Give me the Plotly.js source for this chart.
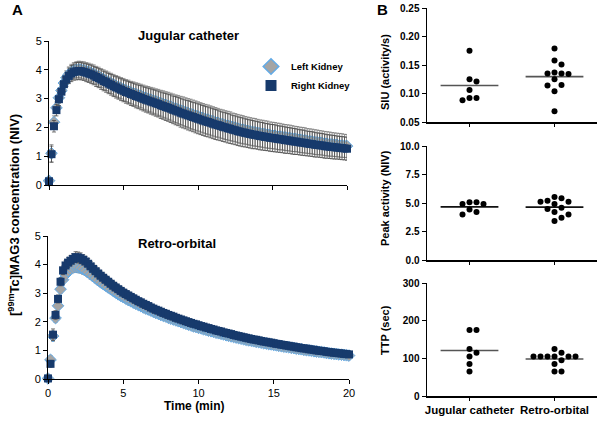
<!DOCTYPE html>
<html>
<head>
<meta charset="utf-8">
<script src="https://cdn.plot.ly/plotly-3.0.1.min.js"></script>
<style>html,body{margin:0;padding:0;background:#fff;}#chart{width:600px;height:422px;}</style>
</head>
<body>
<div id="chart"></div>
<script>
// ---------- DATA ----------
// frame times (seconds)
const frameSeconds = [0,10,20,30,40,50,60,70,80,90,100,110,120,130,140,150,160,170,180,190,200,210,220,230,240,250,260,270,280,290,300,310,320,330,340,350,360,370,380,390,400,410,420,430,440,450,460,470,480,490,500,510,520,530,540,550,560,570,580,590,600,610,620,630,640,650,660,670,680,690,700,710,720,730,740,750,760,770,780,790,800,810,820,830,840,850,860,870,880,890,900,910,920,930,940,950,960,970,980,990,1000,1010,1020,1030,1040,1050,1060,1070,1080,1090,1100,1110,1120,1130,1140,1150,1160,1170,1180,1190,1200];

// Jugular catheter
const jugularRight = [0.13,1.07,2.04,2.60,2.98,3.24,3.50,3.67,3.79,3.87,3.92,3.95,3.96,3.95,3.93,3.90,3.87,3.84,
3.80,3.75,3.71,3.66,3.61,3.57, 3.52,3.48,3.43,3.39,3.35,3.31, 3.27,3.23,3.20,3.16,3.13,3.09,
3.06,3.03,2.99,2.96,2.93,2.90, 2.87,2.84,2.81,2.77,2.74,2.71, 2.68,2.65,2.61,2.58,2.55,2.51,
2.48,2.45,2.42,2.39,2.36,2.33, 2.30,2.27,2.24,2.21,2.19,2.16, 2.13,2.10,2.08,2.05,2.02,2.00,
1.97,1.95,1.92,1.90,1.87,1.85, 1.83,1.81,1.79,1.77,1.75,1.74, 1.72,1.70,1.69,1.67,1.66,1.64,
1.63,1.62,1.60,1.59,1.58,1.56, 1.55,1.54,1.52,1.51,1.50,1.48, 1.47,1.46,1.44,1.43,1.42,1.40,
1.39,1.38,1.37,1.35,1.34,1.33, 1.32,1.31,1.30,1.29,1.28,1.27, 1.26];
const jugularLeft = [0.15,1.10,2.18,2.68,3.03,3.28,3.54,3.72,3.84,3.92,3.97,4.00,4.01,4.00,3.98,3.95,3.92,3.89,
3.85,3.80,3.76,3.71,3.66,3.62, 3.57,3.53,3.48,3.44,3.40,3.36, 3.32,3.28,3.25,3.21,3.18,3.15,
3.12,3.09,3.05,3.02,2.99,2.96, 2.93,2.90,2.87,2.84,2.81,2.78, 2.75,2.72,2.68,2.65,2.62,2.59,
2.56,2.53,2.50,2.47,2.44,2.41, 2.38,2.35,2.32,2.29,2.27,2.24, 2.21,2.18,2.16,2.13,2.11,2.08,
2.06,2.04,2.01,1.99,1.96,1.94, 1.92,1.90,1.88,1.86,1.84,1.83, 1.81,1.79,1.78,1.76,1.75,1.73,
1.72,1.71,1.69,1.68,1.67,1.65, 1.64,1.63,1.61,1.60,1.59,1.57, 1.56,1.55,1.53,1.52,1.51,1.49,
1.48,1.47,1.46,1.44,1.43,1.42, 1.41,1.40,1.39,1.38,1.37,1.36, 1.35];
const jugularRightSD = [0.05,0.28,0.20,0.20,0.22,0.22,0.25,0.25,0.27,0.28,0.28,0.30,0.30,0.30,0.30,0.31,0.31,0.32,
0.32,0.33,0.33,0.34,0.34,0.35, 0.35,0.36,0.36,0.37,0.37,0.38, 0.38,0.39,0.39,0.40,0.40,0.41,
0.41,0.42,0.42,0.43,0.43,0.44, 0.44,0.45,0.45,0.46,0.46,0.47, 0.47,0.48,0.48,0.49,0.49,0.50,
0.50,0.50,0.51,0.51,0.51,0.52, 0.52,0.52,0.52,0.52,0.52,0.52, 0.52,0.52,0.52,0.51,0.51,0.51,
0.51,0.51,0.50,0.50,0.50,0.50, 0.50,0.49,0.49,0.49,0.49,0.48, 0.48,0.48,0.48,0.47,0.47,0.47,
0.47,0.47,0.46,0.46,0.46,0.46, 0.45,0.45,0.45,0.45,0.44,0.44, 0.44,0.44,0.43,0.43,0.43,0.43,
0.42,0.42,0.42,0.42,0.41,0.41, 0.41,0.41,0.40,0.40,0.40,0.40, 0.40];
const jugularLeftSD = [0.05,0.30,0.22,0.20,0.20,0.22,0.24,0.25,0.26,0.27,0.28,0.28,0.29,0.29,0.30,0.30,0.31,0.31,
0.32,0.32,0.33,0.33,0.34,0.34, 0.35,0.35,0.36,0.36,0.37,0.37, 0.38,0.38,0.39,0.39,0.40,0.40,
0.41,0.41,0.42,0.42,0.43,0.43, 0.44,0.44,0.45,0.45,0.46,0.46, 0.47,0.47,0.48,0.48,0.49,0.49,
0.50,0.50,0.50,0.51,0.51,0.51, 0.51,0.51,0.51,0.51,0.51,0.51, 0.51,0.51,0.50,0.50,0.50,0.50,
0.50,0.50,0.49,0.49,0.49,0.49, 0.49,0.48,0.48,0.48,0.48,0.48, 0.47,0.47,0.47,0.47,0.47,0.46,
0.46,0.46,0.46,0.46,0.45,0.45, 0.45,0.45,0.45,0.44,0.44,0.44, 0.44,0.44,0.43,0.43,0.43,0.43,
0.43,0.42,0.42,0.42,0.42,0.42, 0.41,0.41,0.41,0.41,0.41,0.40, 0.40];

// Retro-orbital
const retroRight = [0.02,0.53,1.55,2.24,2.80,3.40,3.80,3.97,4.07,4.14,4.20,4.26,4.25,4.22,4.17,4.11,4.03,3.94,
3.85,3.77,3.69,3.61,3.54,3.47, 3.40,3.33,3.26,3.20,3.14,3.08, 3.02,2.97,2.92,2.87,2.82,2.77,
2.72,2.68,2.63,2.59,2.55,2.50, 2.46,2.42,2.39,2.35,2.31,2.28, 2.24,2.21,2.18,2.14,2.11,2.08,
2.05,2.02,1.99,1.96,1.93,1.91, 1.88,1.85,1.83,1.80,1.78,1.75, 1.73,1.70,1.68,1.66,1.63,1.61,
1.59,1.57,1.54,1.52,1.50,1.48, 1.46,1.44,1.42,1.40,1.38,1.37, 1.35,1.33,1.31,1.30,1.28,1.27,
1.25,1.23,1.22,1.20,1.19,1.17, 1.16,1.14,1.13,1.11,1.10,1.08, 1.07,1.06,1.04,1.03,1.02,1.00,
0.99,0.98,0.97,0.95,0.94,0.93, 0.92,0.91,0.90,0.89,0.88,0.87, 0.86];
const retroLeft = [0.02,0.67,1.50,2.13,2.56,3.14,3.47,3.65,3.77,3.85,3.89,3.91,3.90,3.88,3.84,3.79,3.73,3.66,
3.59,3.52,3.45,3.38,3.32,3.26, 3.20,3.14,3.08,3.02,2.96,2.91, 2.86,2.81,2.76,2.72,2.67,2.63,
2.59,2.55,2.50,2.46,2.43,2.39, 2.35,2.31,2.28,2.24,2.21,2.18, 2.14,2.11,2.08,2.05,2.02,1.99,
1.96,1.93,1.90,1.87,1.84,1.82, 1.79,1.77,1.74,1.72,1.69,1.67, 1.65,1.62,1.60,1.58,1.56,1.53,
1.51,1.49,1.47,1.45,1.43,1.41, 1.39,1.37,1.35,1.34,1.32,1.30, 1.29,1.27,1.25,1.24,1.22,1.21,
1.19,1.18,1.16,1.15,1.13,1.12, 1.11,1.09,1.08,1.06,1.05,1.04, 1.02,1.01,1.00,0.99,0.97,0.96,
0.95,0.94,0.93,0.91,0.90,0.89, 0.88,0.87,0.86,0.85,0.84,0.83, 0.82];
const retroRightSD = [0.02,0.12,0.20,0.15,0.14,0.14,0.15,0.16,0.17,0.18,0.18,0.19,0.19,0.19,0.18,0.18,0.18,0.17,
0.17,0.17,0.16,0.16,0.16,0.15, 0.15,0.15,0.15,0.14,0.14,0.14, 0.14,0.14,0.13,0.13,0.13,0.13,
0.13,0.12,0.12,0.12,0.12,0.12, 0.12,0.12,0.11,0.11,0.11,0.11, 0.11,0.11,0.11,0.11,0.10,0.10,
0.10,0.10,0.10,0.10,0.10,0.10, 0.10,0.10,0.10,0.09,0.09,0.09, 0.09,0.09,0.09,0.09,0.09,0.09,
0.09,0.09,0.09,0.09,0.09,0.09, 0.09,0.09,0.08,0.08,0.08,0.08, 0.08,0.08,0.08,0.08,0.08,0.08,
0.08,0.08,0.08,0.08,0.08,0.08, 0.08,0.08,0.08,0.08,0.08,0.08, 0.08,0.08,0.08,0.08,0.08,0.08,
0.08,0.08,0.08,0.08,0.08,0.08, 0.08,0.08,0.08,0.08,0.08,0.08, 0.08];
const retroLeftSD = [0.02,0.15,0.18,0.15,0.14,0.14,0.15,0.16,0.16,0.17,0.17,0.18,0.18,0.18,0.18,0.17,0.17,0.17,
0.16,0.16,0.16,0.15,0.15,0.15, 0.15,0.14,0.14,0.14,0.14,0.13, 0.13,0.13,0.13,0.13,0.12,0.12,
0.12,0.12,0.12,0.12,0.11,0.11, 0.11,0.11,0.11,0.11,0.11,0.10, 0.10,0.10,0.10,0.10,0.10,0.10,
0.10,0.10,0.10,0.10,0.09,0.09, 0.09,0.09,0.09,0.09,0.09,0.09, 0.09,0.09,0.09,0.09,0.09,0.09,
0.09,0.09,0.09,0.08,0.08,0.08, 0.08,0.08,0.08,0.08,0.08,0.08, 0.08,0.08,0.08,0.08,0.08,0.08,
0.08,0.08,0.08,0.08,0.08,0.08, 0.08,0.08,0.08,0.08,0.08,0.08, 0.07,0.07,0.07,0.07,0.07,0.07,
0.07,0.07,0.07,0.07,0.07,0.07, 0.07,0.07,0.07,0.07,0.07,0.07, 0.07];

// Panel B: individual animals
const groups = ["Jugular catheter", "Retro-orbital"];
const siuJugular = [0.175,0.125,0.121,0.106,0.092,0.092,0.088];
const siuRetro = [0.179,0.158,0.151,0.137,0.135,0.135,0.134,0.125,0.115,0.114,0.104,0.069];
const peakJugular = [5.06,5.06,4.91,4.91,4.44,4.21,4.00];
const peakRetro = [5.53,5.41,5.20,5.11,5.11,4.91,4.59,4.47,4.21,4.00,3.71,3.42];
const ttpJugular = [175,175,125,115,105,85,65];
const ttpRetro = [125,115,105,105,105,105,105,105,95,85,65,65];

// ---------- BUILD ----------
const W = 600, H = 422;
const FONT = "Arial, 'Liberation Sans', sans-serif";
const tMin = frameSeconds.map(s => s / 60);
const navy = '#173a6c';
const diamondFill = '#a4a4a4', diamondEdge = '#62aae6';
const dom = (a, b) => [a / W, b / W];
const vdom = (top, bottom) => [1 - bottom / H, 1 - top / H];

const layoutAx = {
  xaxis:  {domain: dom(49, 347), range: [0, 20], anchor: 'y'},
  yaxis:  {domain: vdom(41, 185), range: [0, 5], anchor: 'x'},
  xaxis2: {domain: dom(48, 349), range: [0, 20], anchor: 'y2'},
  yaxis2: {domain: vdom(236, 379), range: [0, 5], anchor: 'x2'},
  xaxis3: {domain: dom(427, 597), range: [-0.5, 1.5], anchor: 'y3'},
  yaxis3: {domain: vdom(8, 122), range: [0.05, 0.25], anchor: 'x3'},
  xaxis4: {domain: dom(427, 597), range: [-0.5, 1.5], anchor: 'y4'},
  yaxis4: {domain: vdom(146, 260), range: [0, 10], anchor: 'x4'},
  xaxis5: {domain: dom(427, 597), range: [-0.5, 1.5], anchor: 'y5'},
  yaxis5: {domain: vdom(283, 396), range: [0, 300], anchor: 'x5'}
};

function pxPer(ax, isY) {
  const d = ax.domain, r = ax.range;
  return (d[1] - d[0]) * (isY ? H : W) / (r[1] - r[0]);
}

// beeswarm x positions computed in pixel space
function swarm(vals, center, xa, ya) {
  const sx = pxPer(xa, false), sy = pxPer(ya, true);
  const step = 7, dmin = 6.8;
  const placed = [], xs = [];
  vals.forEach(v => {
    const y = v * sy;
    for (let k = 0; k < 60; k++) {
      const off = k === 0 ? 0 : (k % 2 ? (k + 1) / 2 : -k / 2);
      const x = off * step;
      if (placed.every(p => Math.hypot(p[0] - x, p[1] - y) >= dmin)) {
        placed.push([x, y]); xs.push(center + x / sx); break;
      }
    }
  });
  return xs;
}
const mean = a => a.reduce((s, v) => s + v, 0) / a.length;

const leftMarker = {symbol: 'diamond', size: 9, color: diamondFill, line: {color: diamondEdge, width: 1}};
const rightMarker = {symbol: 'square', size: 8, color: navy, line: {width: 0}};

const traces = [];
function curve(y, sd, which, xa, ya) {
  const left = which === 'left';
  traces.push({
    type: 'scatter', mode: 'markers', x: tMin, y: y, xaxis: xa, yaxis: ya,
    showlegend: false, cliponaxis: false, hoverinfo: 'skip',
    marker: left ? leftMarker : rightMarker,
    error_y: {type: 'data', array: sd, visible: true, color: left ? '#6e6e6e' : '#3c3c3c', thickness: 0.7, width: 2}
  });
}
curve(jugularLeft, jugularLeftSD, 'left', 'x', 'y');
curve(jugularRight, jugularRightSD, 'right', 'x', 'y');
curve(retroLeft, retroLeftSD, 'left', 'x2', 'y2');
curve(retroRight, retroRightSD, 'right', 'x2', 'y2');

// legend entries (no data of their own)
traces.push({type: 'scatter', mode: 'markers', x: [null], y: [null], xaxis: 'x', yaxis: 'y',
  name: '<b>Left Kidney</b>', showlegend: true,
  marker: Object.assign({}, leftMarker, {size: 12, line: {color: diamondEdge, width: 1.5}})});
traces.push({type: 'scatter', mode: 'markers', x: [null], y: [null], xaxis: 'x', yaxis: 'y',
  name: '<b>Right Kidney</b>', showlegend: true,
  marker: Object.assign({}, rightMarker, {size: 11})});

const dotPanels = [
  [siuJugular, siuRetro, 'x3', 'y3', 'xaxis3', 'yaxis3', '#555'],
  [peakJugular, peakRetro, 'x4', 'y4', 'xaxis4', 'yaxis4', '#111'],
  [ttpJugular, ttpRetro, 'x5', 'y5', 'xaxis5', 'yaxis5', '#555']
];
dotPanels.forEach(([a, b, xa, ya, xk, yk, lc]) => {
  [a, b].forEach((vals, gi) => {
    const m = mean(vals);
    traces.push({type: 'scatter', mode: 'lines', x: [gi - 0.34, gi + 0.34], y: [m, m],
      xaxis: xa, yaxis: ya, showlegend: false, hoverinfo: 'skip',
      line: {color: lc, width: 1.6}});
    traces.push({type: 'scatter', mode: 'markers', x: swarm(vals, gi, layoutAx[xk], layoutAx[yk]), y: vals,
      xaxis: xa, yaxis: ya, showlegend: false, cliponaxis: false,
      marker: {color: '#000', size: 6}});
  });
});

// axis styling
const leftTick = {family: FONT, size: 11, color: '#000'};
const rightTick = {family: FONT, size: 10, color: '#000', weight: 'bold'};
function styleAx(ax, o) {
  return Object.assign({showgrid: false, zeroline: false, showline: true, linecolor: '#000',
    ticks: 'outside', tickcolor: '#000', fixedrange: true}, ax, o);
}
const layout = {
  width: W, height: H, margin: {l: 0, r: 0, t: 0, b: 0},
  paper_bgcolor: '#fff', plot_bgcolor: 'rgba(0,0,0,0)',
  font: {family: FONT, color: '#000'},
  showlegend: true,
  legend: {x: 251 / W, y: 1 - 52 / H, xanchor: 'left', yanchor: 'top', bgcolor: 'rgba(0,0,0,0)',
    font: {family: FONT, size: 9.5, color: '#000'}, tracegroupgap: 0, itemwidth: 30},
  xaxis: styleAx(layoutAx.xaxis, {linewidth: 1, ticklen: 4, tickvals: [0, 5, 10, 15, 20], showticklabels: false}),
  yaxis: styleAx(layoutAx.yaxis, {linewidth: 1, ticklen: 4, dtick: 1, tickfont: leftTick}),
  xaxis2: styleAx(layoutAx.xaxis2, {linewidth: 1, ticklen: 4, tickvals: [0, 5, 10, 15, 20], tickfont: leftTick}),
  yaxis2: styleAx(layoutAx.yaxis2, {linewidth: 1, ticklen: 4, dtick: 1, tickfont: leftTick}),
  xaxis3: styleAx(layoutAx.xaxis3, {linewidth: 1.5, ticklen: 3, tickvals: [0, 1], showticklabels: false}),
  yaxis3: styleAx(layoutAx.yaxis3, {linewidth: 1.5, ticklen: 4, tickvals: [0.05, 0.10, 0.15, 0.20, 0.25], tickformat: '.2f', tickfont: rightTick}),
  xaxis4: styleAx(layoutAx.xaxis4, {linewidth: 1.5, ticklen: 3, tickvals: [0, 1], showticklabels: false}),
  yaxis4: styleAx(layoutAx.yaxis4, {linewidth: 1.5, ticklen: 4, tickvals: [0, 2.5, 5, 7.5, 10], tickformat: '.1f', tickfont: rightTick}),
  xaxis5: styleAx(layoutAx.xaxis5, {linewidth: 1.5, ticklen: 3, tickvals: [0, 1], ticktext: groups,
    tickfont: {family: FONT, size: 11.5, color: '#000', weight: 'bold'}}),
  yaxis5: styleAx(layoutAx.yaxis5, {linewidth: 1.5, ticklen: 4, tickvals: [0, 100, 200, 300], tickfont: rightTick}),
  annotations: [
    {text: '<b>A</b>', x: 17 / W, y: 1 - 9 / H, font: {size: 15}},
    {text: '<b>B</b>', x: 382 / W, y: 1 - 9 / H, font: {size: 15}},
    {text: '<b>Jugular catheter</b>', x: 188 / W, y: 1 - 35 / H, font: {size: 13}},
    {text: '<b>Retro-orbital</b>', x: 177 / W, y: 1 - 243 / H, font: {size: 13}},
    {text: '<b>[<sup>99m</sup>Tc]MAG3 concentration (NIV)</b>', x: 14 / W, y: 1 - 215 / H, textangle: -90, font: {size: 13}},
    {text: '<b>Time (min)</b>', x: 194 / W, y: 1 - 406 / H, font: {size: 12}},
    {text: '<b>SIU (activity/s)</b>', x: 385 / W, y: 1 - 72 / H, textangle: -90, font: {size: 11}},
    {text: '<b>Peak activity (NIV)</b>', x: 385 / W, y: 1 - 198 / H, textangle: -90, font: {size: 11}},
    {text: '<b>TTP (sec)</b>', x: 385 / W, y: 1 - 330 / H, textangle: -90, font: {size: 11}}
  ].map(a => Object.assign({xref: 'paper', yref: 'paper', showarrow: false, xanchor: 'center', yanchor: 'middle'}, a,
    {font: Object.assign({family: FONT, color: '#000'}, a.font)}))
};

Plotly.newPlot('chart', traces, layout, {displayModeBar: false, staticPlot: true});
</script>
</body>
</html>
